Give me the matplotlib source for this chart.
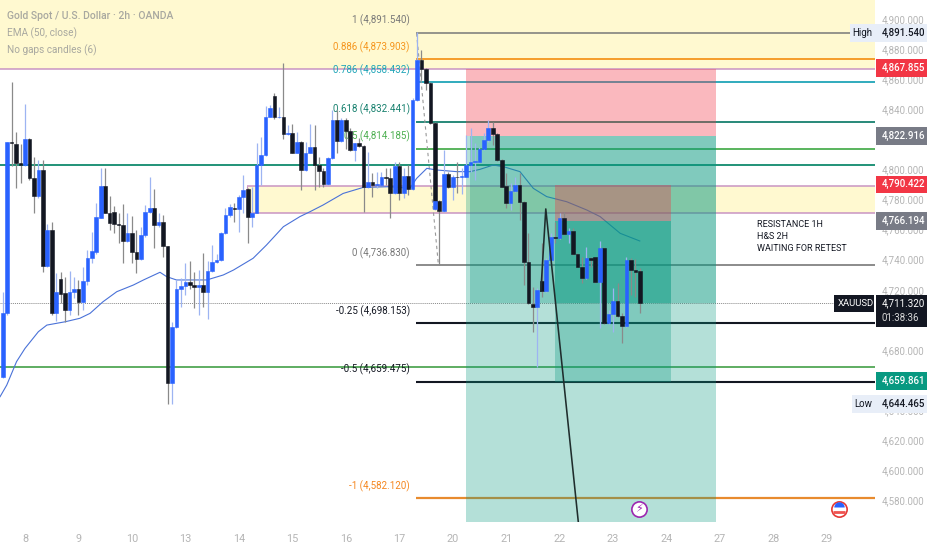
import numpy as np
import matplotlib
matplotlib.use('agg')
import matplotlib.pyplot as plt
from matplotlib.patches import Rectangle

plt.rcParams['font.family'] = ['Roboto', 'DejaVu Sans']

# candles, x is bar number (12 bars per day, bar 0 = day 8)
bar_idx = list(range(-5, 93)) + [92] + list(range(93, 139))
opens = [4662.2,4704.3,4818,4817,4804,4803,4820,4794,4782,4799.4,
         4735.8,4760,4704.3,4727,4717.6,4706.5,4718.3,4720.2,4711.8,4725.8,
         4740.9,4745.3,4768,4789,4771,4771.9,4763.7,4762.8,4752.6,4757.9,
         4745.3,4740.2,4756.4,4771.7,4774.3,4763.2,4765,4749,4658.2,4695,
         4720.2,4722.5,4725.3,4723.1,4721.6,4723.1,4718.7,4732.4,4738.2,4739.8,
         4757.5,4769.4,4774.5,4773.9,4781.9,4786.7,4768.1,4770.8,4802.9,4809.6,
         4835,4848.8,4834.6,4835,4823.5,4824.4,4811.1,4818.2,4799.6,4811.1,
         4815.1,4802.9,4799.1,4790.3,4807.3,4832.8,4819.1,4832.8,4825.7,4812.9,
         4817.3,4815.8,4788.1,4791.4,4789.4,4789.8,4794.7,4794.3,4784.1,4802.5,
         4784.1,4795.6,4787,4846.1,4872.7,4866.7,4857.6,4831,4773.4,
         4779.2,4772.3,4796.7,4788.1,4795.2,4795.2,4795.2,4802.9,
         4805.1,4805.1,4813.3,4819.5,4827.3,4823.5,4806.2,4789,4777.4,4785.8,
         4789.6,4778.5,4738.4,4710.5,4708.7,4725.8,4719.1,4739.8,4755.3,4754.2,
         4767.5,4756.8,4759,4743.7,4735.3,4727.6,4740.9,4741.5,4725.3,4747.5,
         4697.6,4703.8,4712.5,4702.7,4696.1,4739.8,4733.1,4732.4]
closes = [4704.3,4818,4817.3,4804,4803,4820,4794,4782.5,4799.4,4735.8,
          4760,4704.3,4718.3,4717,4706.5,4718.3,4720.2,4711.8,4725.8,4740.9,
          4745.7,4768.1,4789,4771.2,4764.6,4763.7,4762.8,4752.6,4757.9,4745.3,
          4740.2,4756.4,4771.7,4774.3,4763.2,4765,4749,4658.2,4695,4720.2,
          4722.5,4725.3,4723.1,4721.6,4723.1,4718.7,4732.4,4738.2,4739.8,4757.5,
          4769.4,4774.8,4773.9,4781.9,4786.3,4768.1,4770.8,4802.9,4809.6,4835,
          4841,4834.6,4834.8,4823.5,4824,4811.1,4818.2,4799.6,4811.1,4815.1,
          4802.9,4799.1,4790.3,4807.3,4832.8,4819.1,4832.8,4825.7,4812.9,4817.3,
          4815.8,4788.1,4791.4,4789.4,4790.3,4794.7,4794.3,4784.5,4802.5,4784.1,
          4795.6,4787,4846.1,4872.7,4866.7,4857.6,4831,4779.2,4779.2,
          4772.3,4796.7,4788.1,4795.2,4794.9,4795.6,4802.9,4805.1,
          4805.3,4813.3,4819.5,4827.3,4823.5,4806.2,4788.5,4777.4,4785.8,4789.6,
          4778.5,4738.4,4710.9,4708.7,4719.8,4719.1,4739.8,4755.3,4754.2,4767.5,
          4756.8,4759.2,4743.7,4735.3,4727.6,4740.9,4739.8,4725.3,4747.5,4697.6,
          4703.8,4712.5,4702.7,4696.1,4739.8,4733.1,4732,4710.9]
highs = [4718.7,4818,4858,4825,4817,4843.5,4821,4808.5,4806,4806,
         4764,4765,4731,4732,4728.7,4732.4,4728.7,4726.5,4735.3,4746.4,
         4758.6,4777.4,4800.7,4800.7,4782.3,4775.6,4770.8,4777,4770.8,4769,
         4759.7,4761.9,4776.3,4795.2,4786.7,4770.8,4769.7,4749,4698.8,4726.5,
         4727.6,4737.5,4739.3,4732,4733,4744.2,4739,4749.7,4743.7,4758.6,
         4774,4777,4777.4,4783,4796.3,4787.4,4788.5,4817.8,4821.8,4842.1,
         4842.8,4850.5,4841.7,4870.9,4829.5,4830.2,4825,4819,4818.4,4830.2,
         4829.5,4808.4,4800.7,4808.4,4839.5,4839.5,4833.9,4833.9,4827.3,4817.3,
         4820.6,4816.2,4811.8,4797.4,4798.5,4798.5,4800.7,4800.7,4805.1,4805.1,
         4800.7,4802.9,4847.2,4891.5,4879.4,4867.2,4858.3,4831.7,4779.6,
         4779.6,4812.9,4798.5,4796.3,4805.1,4800.7,4822.8,4827.3,
         4817.3,4815.1,4824,4832.8,4831.7,4824,4806.6,4797.4,4790.7,4795.2,
         4797.4,4778.9,4757.5,4722,4720.9,4750.8,4740.9,4757.5,4765.2,4770.8,
         4771.9,4760.8,4760.8,4744.2,4742,4748.6,4742,4742,4752.6,4748.2,
         4706.5,4720.9,4724.2,4704.3,4742,4740.9,4740.4,4734.2]
lows = [4661.1,4703,4802,4787.4,4791,4802,4793,4771,4781,4732,
        4735,4703,4699,4711,4698.8,4703,4714.3,4703,4706.5,4723,
        4737.5,4744,4767.5,4771,4760,4757.5,4750.8,4738,4752,4737.5,
        4730.9,4739.8,4755.3,4770.8,4747.5,4762,4742,4644,4644,4694.3,
        4708.7,4716.5,4720.2,4708,4703,4708.7,4700.5,4732,4737.5,4739.3,
        4756.8,4768.6,4765.2,4758.2,4770.8,4751.3,4761.9,4770.8,4789.6,4808.9,
        4834.6,4833.3,4833.9,4820,4822.9,4810.7,4810.7,4786.3,4799.1,4810.7,
        4786.3,4788.5,4788,4789.8,4806.7,4810.7,4818.4,4813.3,4812.4,4805.8,
        4815.1,4771.9,4787.4,4781.4,4787.4,4789.4,4789.6,4767.5,4783.6,4779.6,
        4780.8,4783,4786.3,4845.7,4859.4,4852.8,4830.2,4779.2,4773,
        4736.4,4771.9,4787.4,4779.6,4784.1,4783.4,4794.7,4798.5,
        4792.9,4804,4812.9,4818.4,4816.2,4805.8,4788,4774.5,4773,4785.2,
        4766.3,4723.1,4710.5,4692.1,4668.8,4715.4,4718.7,4738.6,4750.8,4753.5,
        4756.4,4750.8,4743.1,4734.9,4724.2,4726.9,4735.3,4724.7,4694.3,4697.2,
        4697.2,4692.1,4702,4684.3,4695.4,4716.5,4715.4,4704.3]

ema_x = [-5.6,-4.1,-1.9,0,3,4.9,9,12.3,14.6,17.5,20.6,24.3,26.6,30.3,31.8,34,40.8,44.5,46.8,
         51.2,54.2,58,61.7,64,66.9,71.4,75.9,81.9,86.4,87.9,90.2,92.4,96.9,99.9,
         102.1,105.1,107.4,111.1,114.1,117.1,121.6,126.1,129.1,133.6,138]
ema_y = [4648.9,4656.6,4672.2,4681,4692.1,4696.5,4698.7,4701,4704.3,4712,4718.7,4723.1,4726.5,4731.6,4728.7,4726.5,4726.5,4729.8,4733.1,
         4740.9,4749.7,4761.9,4768.6,4771.9,4776.3,4784,4788,4788.5,4787.4,4794,4800.7,4799.6,4798.5,4798.5,
         4800,4802.9,4801.8,4798.5,4787.4,4781.9,4778.5,4773,4768.6,4757.5,4752.4]

day_labels = ['8','9','10','13','14','15','16','17','20','21','22','23','24','27','28','29']
# 4,820 4,700 and 4,660 sit fully behind the price bubbles
price_ticks = [4580,4600,4620,4640,4680,4720,4740,4760,4780,4800,4840,4860,4880,4900]

# fib levels drawn from bar 87.8 to the right edge
fib_levels = [4890.9, 4873.4, 4857.9, 4831.7, 4813.8, 4736.2, 4697.6, 4658.6, 4581.5]
fib_colors = ['#787878', '#f5961e', '#20a5b8', '#17806e', '#4caf50', '#787878', '#131722', '#131722', '#e88b2e']
fib_widths = [1.1, 1.3, 1.3, 1.3, 1.3, 1.2, 1.5, 1.5, 1.6]
fib_texts = ['1 (4,891.540)', '0.886 (4,873.903)', '0.786 (4,858.432)', '0.618 (4,832.441)', '0.5 (4,814.185)',
             '0 (4,736.830)', '-0.25 (4,698.153)', '-0.5 (4,659.475)', '-1 (4,582.120)']
fib_text_y = [4899, 4881.5, 4866, 4840.2, 4822.2, 4744.2, 4705.6, 4667, 4589.5]
fib_text_colors = ['#787878', '#f5961e', '#20a5b8', '#17806e', '#4caf50', '#787878', '#131722', '#131722', '#f5861e']

zone_top = 4866.5
zone_low, zone_high = 4771.2, 4789.2
green_full = 4802.9
green_thin = 4668.6
last_price = 4710.9

trend_x = [115.8, 116.9, 124.2]
trend_y = [4719.1, 4773.7, 4565.6]
fib_dash_x = [87.9, 92.8]
fib_dash_y = [4890.4, 4736.4]

fig = plt.figure(figsize=(9.32, 5.5), dpi=100)
ax = fig.add_axes([0, 28 / 550, 875 / 932, 522 / 550])
ax.set_xlim(-25 / 4.455, 850 / 4.455)
ax.set_ylim(4565.6, 4912.6)

# yellow zones
ax.axhspan(zone_top, 4912.6, color='#fff9d0', lw=0, zorder=0)
ax.add_patch(Rectangle((49.8, zone_low), 145, zone_high - zone_low, color='#fff9d0', lw=0, zorder=0))

pink = '#c994c2'
ax.hlines(zone_top, -6, 191, color=pink, lw=1.1, zorder=1)
ax.hlines([zone_low, zone_high], 49.8, 191, color=pink, lw=1.1, zorder=1)
ax.vlines(49.8, zone_low, zone_high, color=pink, lw=0.8, zorder=1)
ax.hlines(green_full, -6, 191, color='#0f8a6d', lw=1.3, zorder=1)
ax.hlines(green_thin, -6, 191, color='#43a047', lw=1.2, zorder=1)
ax.hlines(last_price, -6, 181.6, color='#8a8a8a', lw=0.7, ls=(0, (1, 1)), zorder=1)

# fib
for lev, c, w, t, ty, tc in zip(fib_levels, fib_colors, fib_widths, fib_texts, fib_text_y, fib_text_colors):
    xend = 185.2 if t.startswith('1 ') else 191
    ax.hlines(lev, 87.8, xend, color=c, lw=w, zorder=1)
    ax.text(86.4, ty, t, color=tc, fontsize=7.0, ha='right', va='center', zorder=1)

ax.plot(fib_dash_x, fib_dash_y, color='#999999', lw=0.8, ls=(0, (3, 3)), zorder=1)

ax.plot(ema_x, ema_y, color='#4a72d8', lw=0.8, zorder=4)

# position tools
green = '#089981'
red = '#f23645'
ax.add_patch(Rectangle((99, 4822.2), 56.1, 4867 - 4822.2, color=red, alpha=0.35, lw=0, zorder=5))
ax.add_patch(Rectangle((99, 4565.6), 56.1, 4822.2 - 4565.6, color=green, alpha=0.3, lw=0, zorder=5))
ax.add_patch(Rectangle((99.9, last_price), 55.2, 4822.2 - last_price, color=green, alpha=0.3, lw=0, zorder=5))
ax.add_patch(Rectangle((119, 4765.7), 25.9, 4789.6 - 4765.7, color=red, alpha=0.35, lw=0, zorder=5))
ax.add_patch(Rectangle((119, 4658.9), 25.9, 4765.7 - 4658.9, color=green, alpha=0.3, lw=0, zorder=5))
ax.add_patch(Rectangle((119, last_price), 25.9, 4765.7 - last_price, color=green, alpha=0.3, lw=0, zorder=5))

# candles sit above the shaded tools, they stay crisp in the reference
bar_idx = np.array(bar_idx)
opens, closes, highs, lows = map(np.array, (opens, closes, highs, lows))
up = closes >= opens
ax.vlines(bar_idx[up], lows[up], highs[up], color='#9db4f2', lw=0.9, zorder=5.2)
ax.vlines(bar_idx[~up], lows[~up], highs[~up], color='#8a8a8a', lw=0.9, zorder=5.2)
ax.bar(bar_idx[~up], closes[~up] - opens[~up], bottom=opens[~up], width=0.82, color='#131722',
       edgecolor='#131722', lw=0.4, zorder=5.4)
ax.bar(bar_idx[up], closes[up] - opens[up], bottom=opens[up], width=0.82, color='#2962ff',
       edgecolor='#2962ff', lw=0.4, zorder=5.4)

ax.plot(trend_x, trend_y, color='#1f2d2d', lw=1.15, zorder=6)

# event icons
ax.plot([137.9], [4574.2], 'o', ms=11, mfc='white', mec='#9c27b0', mew=1.2, zorder=7)
ax.text(137.9, 4574.2, '\u26a1', color='#9c27b0', fontsize=8, ha='center', va='center',
        family='DejaVu Sans', zorder=8)
ax.plot([182.8], [4574.2], 'o', ms=11, mfc='white', mec='#e53935', mew=1.2, zorder=7)
ax.plot([182.8], [4575.7], 'o', ms=7.5, fillstyle='top', mfc='#2962ff', mfcalt='none', mew=0, zorder=8)
ax.plot([182.8], [4572], '_', ms=8, color='#ef5350', mew=2, zorder=8)

# header
hdr = '#a8a8a0'
ax.text(-4, 4901.9, 'Gold Spot / U.S. Dollar \u00b7 2h \u00b7 OANDA', color=hdr, fontsize=7.5, fontweight='medium',
        ha='left', va='center')
ax.text(-4, 4890.5, 'EMA (50, close)', color=hdr, fontsize=7.2, ha='left', va='center')
ax.text(-4, 4879.2, 'No gaps candles (6)', color=hdr, fontsize=7.2, ha='left', va='center')

# note
for yy, t in zip([4763.5, 4755.5, 4747.5], ['RESISTANCE 1H', 'H&S 2H', 'WAITING FOR RETEST']):
    ax.text(164.2, yy, t, color='#131722', fontsize=6.5, ha='left', va='center', zorder=9)

# axes
for s in ax.spines.values():
    s.set_visible(False)
ax.set_xticks(np.arange(len(day_labels)) * 12)
ax.set_xticklabels(day_labels)
ax.yaxis.tick_right()
ax.set_yticks(price_ticks)
ax.set_yticklabels(['{:,.3f}'.format(p) for p in price_ticks])
ax.tick_params(axis='both', length=0, labelcolor='#b5b5b5', labelsize=7.0)
ax.tick_params(axis='x', labelsize=7.8, pad=9)
ax.tick_params(axis='y', pad=5)

# price scale labels
def xf(px):
    return px / 875

def bubble(price, text, bg, fg='white', h=11.8, x0=875.5):
    ax.add_patch(Rectangle((xf(x0), price - h / 2), xf(927) - xf(x0), h, transform=ax.get_yaxis_transform(),
                           color=bg, lw=0, clip_on=False, zorder=10))
    ax.text(xf(882), price, text, transform=ax.get_yaxis_transform(), color=fg, fontsize=7.0,
            ha='left', va='center', clip_on=False, zorder=11, fontweight='medium')

bubble(4890.9, '4,891.540', '#e8eef8', '#131722', x0=850)
ax.text(xf(852.5), 4890.9, 'High', transform=ax.get_yaxis_transform(), color='#131722', fontsize=7.0, va='center', zorder=11)
bubble(4867.4, '4,867.855', '#f23645')
bubble(4822.2, '4,822.916', '#787b86')
bubble(4790, '4,790.422', '#f23645')
bubble(4765.7, '4,766.194', '#787b86')
bubble(4659.4, '4,659.861', '#089981')
bubble(4644, '4,644.465', '#e8eef8', '#131722', x0=852)
ax.text(xf(854), 4644, 'Low', transform=ax.get_yaxis_transform(), color='#131722', fontsize=7.0, va='center', zorder=11)

ax.add_patch(Rectangle((xf(834), 4705), xf(874) - xf(834), 11.8, transform=ax.get_yaxis_transform(),
                       color='#131722', lw=0, clip_on=False, zorder=10))
ax.text(xf(837.5), 4711, 'XAUUSD', transform=ax.get_yaxis_transform(), color='white', fontsize=6.8, va='center', zorder=11)
ax.add_patch(Rectangle((xf(875.5), 4695.5), xf(927) - xf(875.5), 21.3, transform=ax.get_yaxis_transform(),
                       color='#131722', lw=0, clip_on=False, zorder=10))
ax.text(xf(882), 4711, '4,711.320', transform=ax.get_yaxis_transform(), color='white', fontsize=7.0, va='center', zorder=11)
ax.text(xf(882), 4701, '01:38:36', transform=ax.get_yaxis_transform(), color='#d8d8d8', fontsize=7.0, va='center', zorder=11)

plt.savefig('out.png', dpi=100)
